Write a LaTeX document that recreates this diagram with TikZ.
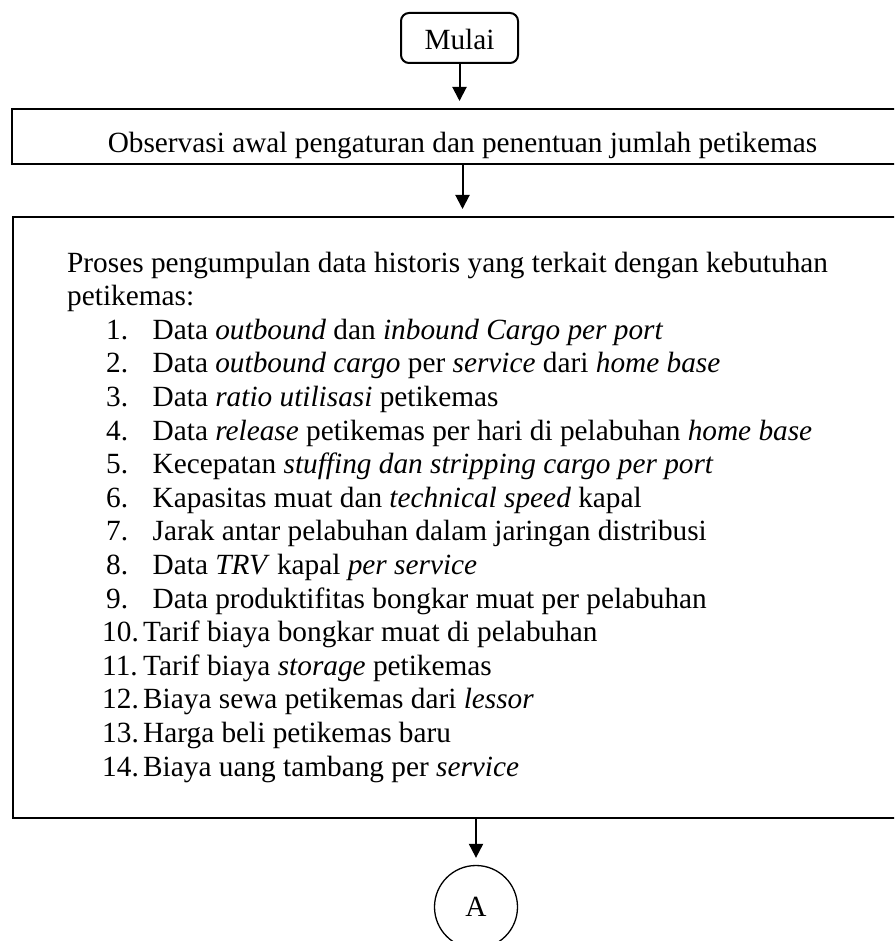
\documentclass[tikz,border=0pt]{standalone}
\usepackage{fontspec}
\setmainfont{Liberation Serif}
\usetikzlibrary{positioning, arrows.meta}
\tikzset{
    x=1pt, y=-1pt, % units as in the scan, y pointing down
    >={Triangle[width=14pt, length=14pt]},
    huruf/.style={font=\fontsize{29.3}{33.6}\selectfont},
    kotak/.style={draw, line width=2pt, inner sep=0pt, huruf},
    teks/.style={inner sep=0pt, anchor=base west, huruf},
    panah/.style={->, line width=2pt, shorten >=7pt},
}
\begin{document}
\begin{tikzpicture}
    \clip (0,0) rectangle (894,941);

    \node[kotak, rounded corners=8pt, minimum width=117pt, text height=37pt, text depth=13pt] (mulai) at (459.5,38) {Mulai};
    \node[kotak, minimum width=901pt, text height=44pt, text depth=11pt] (observasi) at (462.5,136.5) {Observasi awal pengaturan dan penentuan jumlah petikemas};
    \node[kotak, minimum width=926pt, minimum height=601pt] (data) at (476,517.5) {};
    \node[circle, draw, line width=1.3pt, minimum size=83pt, inner sep=0pt, huruf] (A) at (476,907) {A};

    % isi kotak data
    \node[teks] (judul1) at (67,272) {Proses pengumpulan data historis yang terkait dengan kebutuhan};
    \node[teks] (judul2) at (67,305.6) {petikemas:};
    \node[teks] (d1) at (106,339.2) {\makebox[46.5pt][l]{1.}Data \textit{outbound} dan \textit{inbound Cargo per port}};
    \node[teks] (d2) at (106,372.8) {\makebox[46.5pt][l]{2.}Data \textit{outbound cargo} per \textit{service} dari \textit{home base}};
    \node[teks] (d3) at (106,406.4) {\makebox[46.5pt][l]{3.}Data \textit{ratio utilisasi} petikemas};
    \node[teks] (d4) at (106,440.0) {\makebox[46.5pt][l]{4.}Data \textit{release} petikemas per hari di pelabuhan \textit{home base}};
    \node[teks] (d5) at (106,473.6) {\makebox[46.5pt][l]{5.}Kecepatan \textit{stuffing dan stripping cargo per port}};
    \node[teks] (d6) at (106,507.2) {\makebox[46.5pt][l]{6.}Kapasitas muat dan \textit{technical speed} kapal};
    \node[teks] (d7) at (106,540.8) {\makebox[46.5pt][l]{7.}Jarak antar pelabuhan dalam jaringan distribusi};
    \node[teks] (d8) at (106,574.4) {\makebox[46.5pt][l]{8.}Data \textit{TRV} kapal \textit{per service}};
    \node[teks] (d9) at (106,608.0) {\makebox[46.5pt][l]{9.}Data produktifitas bongkar muat per pelabuhan};
    \node[teks] (d10) at (102,641.6) {\makebox[41pt][l]{10.}Tarif biaya bongkar muat di pelabuhan};
    \node[teks] (d11) at (102,675.2) {\makebox[41pt][l]{11.}Tarif biaya \textit{storage} petikemas};
    \node[teks] (d12) at (102,708.8) {\makebox[41pt][l]{12.}Biaya sewa petikemas dari \textit{lessor}};
    \node[teks] (d13) at (102,742.4) {\makebox[41pt][l]{13.}Harga beli petikemas baru};
    \node[teks] (d14) at (102,776.0) {\makebox[41pt][l]{14.}Biaya uang tambang per \textit{service}};

    \draw[panah] (mulai.south) -- (mulai.south |- observasi.north);
    \draw[panah] (observasi.south) -- (observasi.south |- data.north);
    \draw[panah] (data.south) -- (A.north);
\end{tikzpicture}
\end{document}
